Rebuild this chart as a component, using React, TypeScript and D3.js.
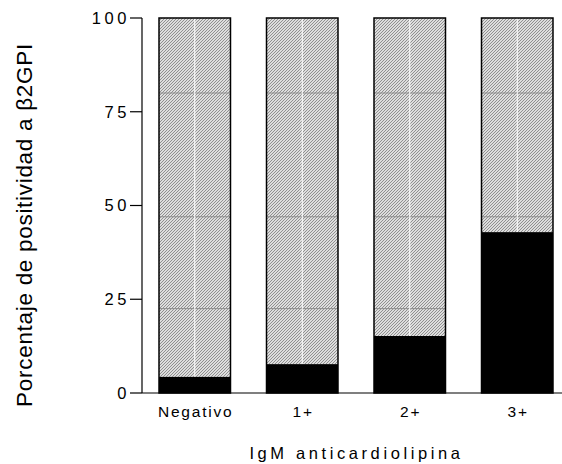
import * as d3 from 'd3';
import { useEffect, useRef } from 'react';

const categories = ['Negativo', '1+', '2+', '3+'];
const positivos = [4.3, 7.7, 15.2, 42.9];
const yTicks = [0, 25, 50, 75, 100];
const yLabel = 'Porcentaje de positividad a β2GPI';
const xLabel = 'IgM anticardiolipina';

function App() {
  const svgRef = useRef<SVGSVGElement>(null);

  useEffect(() => {
    const svg = d3.select(svgRef.current);
    svg.selectAll('*').remove();

    const width = 562;
    const height = 464;
    const font = 'Liberation Sans, Arial, sans-serif';

    const x = d3.scaleBand<string>()
      .domain(categories)
      .range([141, 571])
      .paddingInner(0.335)
      .paddingOuter(0.1675);

    const y = d3.scaleLinear().domain([0, 100]).range([393, 18]);

    const defs = svg.append('defs');
    const pat = defs.append('pattern')
      .attr('id', 'hatch')
      .attr('patternUnits', 'userSpaceOnUse')
      .attr('width', 3)
      .attr('height', 3);
    pat.append('rect').attr('width', 3).attr('height', 3).attr('fill', '#fff');
    pat.append('path')
      .attr('d', 'M-1,1 L1,-1 M0,3 L3,0 M2,4 L4,2')
      .attr('stroke', '#8a8a8a')
      .attr('stroke-width', 1.1);

    const bars = svg.append('g');
    categories.forEach((c, i) => {
      const x0 = x(c)!;
      const bw = x.bandwidth();
      // hatched part (rest up to 100)
      bars.append('rect')
        .attr('x', x0).attr('y', y(100))
        .attr('width', bw).attr('height', y(positivos[i]) - y(100))
        .attr('fill', 'url(#hatch)');
      // faint artefact lines in the hatch
      [80, 47, 22.5].forEach(v => {
        if (v > positivos[i]) {
          bars.append('line')
            .attr('x1', x0).attr('x2', x0 + bw)
            .attr('y1', y(v)).attr('y2', y(v))
            .attr('stroke', '#8c8c8c').attr('stroke-width', 1);
        }
      });
      bars.append('line')
        .attr('x1', x0 + bw / 2).attr('x2', x0 + bw / 2)
        .attr('y1', y(100)).attr('y2', y(positivos[i]))
        .attr('stroke', '#fff').attr('stroke-width', 1);
      // black part
      bars.append('rect')
        .attr('x', x0).attr('y', y(positivos[i]))
        .attr('width', bw).attr('height', y(0) - y(positivos[i]))
        .attr('fill', '#000');
      // outline
      bars.append('rect')
        .attr('x', x0).attr('y', y(100))
        .attr('width', bw).attr('height', y(0) - y(100))
        .attr('fill', 'none')
        .attr('stroke', '#000').attr('stroke-width', 1.5);
    });

    // y axis
    const yAxis = svg.append('g').attr('transform', 'translate(142,0)');
    yAxis.append('line')
      .attr('x1', 0).attr('x2', 0).attr('y1', y(100)).attr('y2', y(0))
      .attr('stroke', '#000').attr('stroke-width', 1.2);
    yTicks.forEach(t => {
      yAxis.append('line')
        .attr('x1', -12).attr('x2', 0).attr('y1', y(t)).attr('y2', y(t))
        .attr('stroke', '#000').attr('stroke-width', 1.2);
      yAxis.append('text')
        .attr('x', -12).attr('y', y(t))
        .attr('dy', '0.35em')
        .attr('text-anchor', 'end')
        .attr('font-family', font).attr('font-size', 16.5)
        .attr('letter-spacing', 3.6)
        .text(t);
    });

    // x axis
    svg.append('line')
      .attr('x1', 142).attr('x2', width).attr('y1', y(0)).attr('y2', y(0))
      .attr('stroke', '#000').attr('stroke-width', 1.2);
    categories.forEach(c => {
      svg.append('text')
        .attr('x', x(c)! + x.bandwidth() / 2 + 1)
        .attr('y', 417)
        .attr('text-anchor', 'middle')
        .attr('font-family', font).attr('font-size', 15.5)
        .attr('letter-spacing', 1.8)
        .text(c);
    });

    svg.append('text')
      .attr('x', 356.5).attr('y', 459)
      .attr('text-anchor', 'middle')
      .attr('font-family', font).attr('font-size', 16.5)
      .attr('letter-spacing', 3.6)
      .text(xLabel);

    svg.append('text')
      .attr('transform', `translate(32,225) rotate(-90)`)
      .attr('text-anchor', 'middle')
      .attr('font-family', font).attr('font-size', 22.5)
      .attr('letter-spacing', 0.7)
      .text(yLabel);

    svg.attr('width', width).attr('height', height);
  }, []);

  return <svg ref={svgRef} style={{ display: 'block', position: 'absolute', left: 0, top: 0 }} />;
}

export default App;
